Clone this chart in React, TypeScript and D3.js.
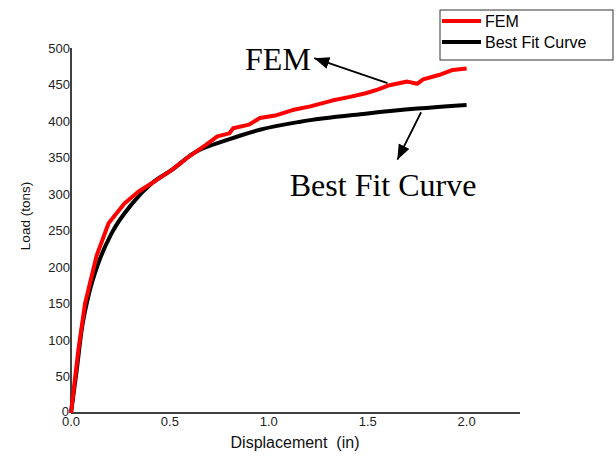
import React, { useEffect, useRef } from "react";
import * as d3 from "d3";

// FEM result
const femDisp = [0, 0.037, 0.071, 0.13, 0.19, 0.27, 0.34, 0.41, 0.51, 0.6, 0.68, 0.74, 0.8, 0.82, 0.9, 0.955, 1.04, 1.12, 1.21, 1.32, 1.41, 1.49, 1.55, 1.61, 1.7, 1.75, 1.78, 1.86, 1.93, 2.0];
const femLoad = [0, 86, 150, 216, 260, 287, 303, 315, 333, 352, 367, 379, 383, 390, 395, 404, 408, 415, 420, 428, 433, 438, 443, 449, 454, 451, 457, 463, 470, 472];

// best fit curve
const fitDisp = [0, 0.029, 0.054, 0.087, 0.138, 0.205, 0.31, 0.41, 0.51, 0.62, 0.79, 0.955, 1.16, 1.49, 1.75, 2.0];
const fitLoad = [0, 59, 114, 159, 205, 246, 287, 315, 333, 356, 374, 388, 399, 410, 417, 422];

const xTicks = [0, 0.5, 1.0, 1.5, 2.0];
const yTicks = [0, 50, 100, 150, 200, 250, 300, 350, 400, 450, 500];
const seriesNames = ["FEM", "Best Fit Curve"];
const seriesColors = ["#ff0000", "#000000"];

// callouts in data units [disp, load]
const calloutText = ["FEM", "Best Fit Curve"];
const calloutAt = [[0.88, 470], [1.106, 297]];
const arrowFrom = [[1.6, 452], [1.77, 412]];
const arrowTo = [[1.23, 486], [1.65, 347]];

const sans = "'Liberation Sans', Arial, sans-serif";
const serif = "'Liberation Serif', 'Times New Roman', serif";

const App = () => {
  const chartRef = useRef<SVGSVGElement>(null);

  useEffect(() => {
    const svg = d3.select(chartRef.current);
    svg.selectAll("*").remove();

    const x = d3.scaleLinear().domain([0, 2.27]).range([71, 520]);
    const y = d3.scaleLinear().domain([0, 500]).range([413, 48]);

    svg
      .append("defs")
      .append("marker")
      .attr("id", "head")
      .attr("markerUnits", "userSpaceOnUse")
      .attr("markerWidth", 16)
      .attr("markerHeight", 13)
      .attr("refX", 15)
      .attr("refY", 6)
      .attr("orient", "auto")
      .append("path")
      .attr("d", "M0,0 L15,6 L0,12 Z")
      .attr("fill", "#000");

    // axes lines
    svg
      .append("line")
      .attr("x1", x(0)).attr("x2", x(0))
      .attr("y1", y(500)).attr("y2", y(0))
      .attr("stroke", "#000").attr("stroke-width", 1.5);
    svg
      .append("line")
      .attr("x1", x(0)).attr("x2", x(2.27))
      .attr("y1", y(0)).attr("y2", y(0))
      .attr("stroke", "#404040").attr("stroke-width", 2.2);

    svg
      .append("g")
      .selectAll("text")
      .data(yTicks)
      .join("text")
      .attr("x", (d) => (d === 0 ? x(0) - 2 : x(0) - 1))
      .attr("y", (d) => (d === 0 ? y(d) - 2 : y(d)))
      .attr("dy", "0.35em")
      .attr("text-anchor", "end")
      .style("font", `13px ${sans}`)
      .attr("fill", "#222")
      .text((d) => d);

    svg
      .append("g")
      .selectAll("text")
      .data(xTicks)
      .join("text")
      .attr("x", (d) => x(d))
      .attr("y", 426)
      .attr("text-anchor", "middle")
      .style("font", `13px ${sans}`)
      .attr("fill", "#222")
      .text((d) => d3.format(".1f")(d));

    svg
      .append("text")
      .attr("x", 295)
      .attr("y", 448)
      .attr("text-anchor", "middle")
      .attr("xml:space", "preserve")
      .style("font", `16px ${sans}`)
      .style("white-space", "pre")
      .attr("fill", "#111")
      .text("Displacement  (in)");

    svg
      .append("text")
      .attr("transform", "translate(30,216) rotate(-90)")
      .attr("text-anchor", "middle")
      .style("font", `13.5px ${sans}`)
      .attr("fill", "#111")
      .text("Load (tons)");

    // series
    const fem = femDisp.map((d, i) => [d, femLoad[i]] as [number, number]);
    const fit = fitDisp.map((d, i) => [d, fitLoad[i]] as [number, number]);

    svg
      .append("path")
      .datum(fit)
      .attr("fill", "none")
      .attr("stroke", seriesColors[1])
      .attr("stroke-width", 4)
      .attr(
        "d",
        d3.line<[number, number]>()
          .x((d) => x(d[0]))
          .y((d) => y(d[1]))
          .curve(d3.curveMonotoneX)
      );

    svg
      .append("path")
      .datum(fem)
      .attr("fill", "none")
      .attr("stroke", seriesColors[0])
      .attr("stroke-width", 4)
      .attr("stroke-linejoin", "round")
      .attr(
        "d",
        d3.line<[number, number]>()
          .x((d) => x(d[0]))
          .y((d) => y(d[1]))
      );

    // callouts
    calloutText.forEach((t, i) => {
      svg
        .append("text")
        .attr("x", x(calloutAt[i][0]))
        .attr("y", y(calloutAt[i][1]))
        .style("font", `32px ${serif}`)
        .attr("fill", "#000")
        .text(t);
      svg
        .append("line")
        .attr("x1", x(arrowFrom[i][0]))
        .attr("y1", y(arrowFrom[i][1]))
        .attr("x2", x(arrowTo[i][0]))
        .attr("y2", y(arrowTo[i][1]))
        .attr("stroke", "#000")
        .attr("stroke-width", 1.8)
        .attr("marker-end", "url(#head)");
    });

    // legend
    const lg = svg.append("g").attr("transform", "translate(440,10)");
    lg.append("rect")
      .attr("width", 173)
      .attr("height", 50)
      .attr("fill", "#fff")
      .attr("stroke", "#333")
      .attr("stroke-width", 1);
    seriesNames.forEach((name, i) => {
      const ly = 11 + i * 21;
      lg.append("line")
        .attr("x1", 2).attr("x2", 41)
        .attr("y1", ly).attr("y2", ly)
        .attr("stroke", seriesColors[i])
        .attr("stroke-width", 4);
      lg.append("text")
        .attr("x", 45)
        .attr("y", ly)
        .attr("dy", "0.35em")
        .style("font", `16px ${sans}`)
        .attr("fill", "#000")
        .text(name);
    });
  }, []);

  return (
    <svg
      ref={chartRef}
      width={616}
      height={456}
      style={{ position: "absolute", left: 0, top: 0, background: "#fff" }}
    />
  );
};

export default App;
